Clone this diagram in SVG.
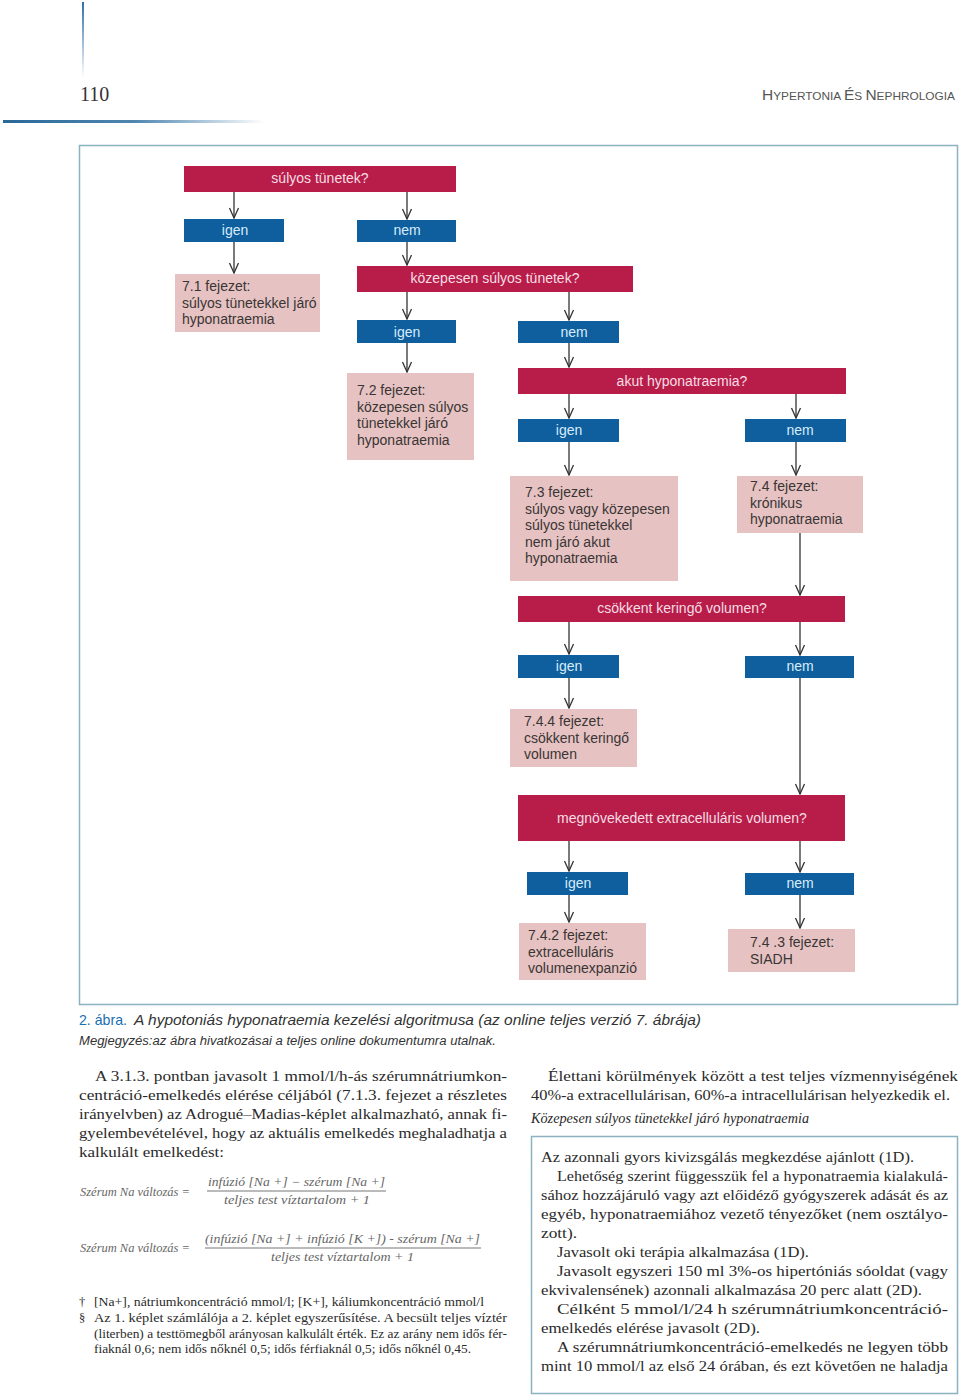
<svg xmlns="http://www.w3.org/2000/svg" width="960" height="1400" viewBox="0 0 960 1400">
<defs>
<linearGradient id="gv" x1="0" y1="0" x2="0" y2="1"><stop offset="0" stop-color="#2f6fa8"/><stop offset="1" stop-color="#2f6fa8" stop-opacity="0"/></linearGradient>
<linearGradient id="gh" x1="0" y1="0" x2="1" y2="0"><stop offset="0" stop-color="#2a6898"/><stop offset="0.5" stop-color="#4f86b0"/><stop offset="1" stop-color="#4f86b0" stop-opacity="0"/></linearGradient>
<marker id="ah" markerUnits="userSpaceOnUse" markerWidth="12" markerHeight="12" viewBox="0 0 12 12" refX="11" refY="6" orient="auto"><path d="M1,1.5 L11,6 L1,10.5" fill="none" stroke="#333" stroke-width="1.3"/></marker>
</defs>
<style>
.q{fill:#b81d4a}
.b{fill:#0f5f9e}
.p{fill:#e6c3c2}
.tq{font-family:"Liberation Sans",Arial,sans-serif;font-size:14px;fill:#f6dde4;text-anchor:middle}
.tb{font-family:"Liberation Sans",Arial,sans-serif;font-size:14px;fill:#d6ecfa;text-anchor:middle}
.tp{font-family:"Liberation Sans",Arial,sans-serif;font-size:14px;fill:#3a3535}
.c line{stroke:#333;stroke-width:1.3;marker-end:url(#ah)}
.body{font-family:"Liberation Serif","Times New Roman",serif;font-size:15.5px;fill:#2a2a2a}
.fn{font-family:"Liberation Serif","Times New Roman",serif;font-size:12.5px;fill:#2a2a2a}
.fm{font-family:"Liberation Serif","Times New Roman",serif;font-size:12px;font-style:italic;fill:#666}
.cap{font-family:"Liberation Sans",Arial,sans-serif;font-style:italic;fill:#333}
</style>
<rect width="960" height="1400" fill="#fff"/>
<!-- header -->
<rect x="82" y="2" width="2" height="76" fill="url(#gv)"/>
<text x="80" y="101" font-family="Liberation Serif,Times New Roman,serif" font-size="20" fill="#333">110</text>
<text x="955" y="100" text-anchor="end" font-family="Liberation Sans,Arial,sans-serif" fill="#555" font-size="11.5" textLength="193" lengthAdjust="spacingAndGlyphs"><tspan font-size="15">H</tspan>YPERTONIA <tspan font-size="15">É</tspan>S <tspan font-size="15">N</tspan>EPHROLOGIA</text>
<rect x="3" y="120" width="262" height="3" fill="url(#gh)"/>
<!-- frame -->
<rect x="79.5" y="145.5" width="878" height="859" fill="none" stroke="#8ab2c0" stroke-width="1.5"/>
<!-- connectors -->
<g id="connectors" class="c">
<line x1="234" y1="192" x2="234" y2="218"/>
<line x1="407" y1="192" x2="407" y2="219"/>
<line x1="234" y1="242" x2="234" y2="273"/>
<line x1="407" y1="242" x2="407" y2="265"/>
<line x1="407" y1="292" x2="407" y2="319"/>
<line x1="569" y1="292" x2="569" y2="320"/>
<line x1="407" y1="343" x2="407" y2="372"/>
<line x1="569" y1="343" x2="569" y2="367"/>
<line x1="569" y1="394" x2="569" y2="418"/>
<line x1="796" y1="394" x2="796" y2="418"/>
<line x1="569" y1="442" x2="569" y2="475"/>
<line x1="796" y1="442" x2="796" y2="475"/>
<line x1="800" y1="533" x2="800" y2="595"/>
<line x1="569" y1="622" x2="569" y2="654"/>
<line x1="800" y1="622" x2="800" y2="655"/>
<line x1="569" y1="678" x2="569" y2="708"/>
<line x1="800" y1="678" x2="800" y2="794"/>
<line x1="569" y1="841" x2="569" y2="871"/>
<line x1="800" y1="841" x2="800" y2="872"/>
<line x1="569" y1="895" x2="569" y2="922"/>
<line x1="800" y1="895" x2="800" y2="928"/>
</g>
<!-- nodes -->
<g id="q1"><rect class="q" x="184" y="166" width="272" height="26"/><text class="tq" x="320" y="183">súlyos tünetek?</text></g>
<g id="y1"><rect class="b" x="184" y="219" width="100" height="23"/><text class="tb" x="235" y="235">igen</text></g>
<g id="n1"><rect class="b" x="357" y="220" width="99" height="22"/><text class="tb" x="407" y="235">nem</text></g>
<g id="r71"><rect class="p" x="175" y="274" width="145" height="58"/><text class="tp" x="182" y="291">7.1 fejezet:<tspan x="182" dy="16.5">súlyos tünetekkel járó</tspan><tspan x="182" dy="16.5">hyponatraemia</tspan></text></g>
<g id="q2"><rect class="q" x="357" y="266" width="276" height="26"/><text class="tq" x="495" y="283">közepesen súlyos tünetek?</text></g>
<g id="y2"><rect class="b" x="357" y="320" width="99" height="23"/><text class="tb" x="407" y="337">igen</text></g>
<g id="n2"><rect class="b" x="518" y="321" width="101" height="22"/><text class="tb" x="574" y="337">nem</text></g>
<g id="r72"><rect class="p" x="347" y="373" width="127" height="87"/><text class="tp" x="357" y="395">7.2 fejezet:<tspan x="357" dy="16.5">közepesen súlyos</tspan><tspan x="357" dy="16.5">tünetekkel járó</tspan><tspan x="357" dy="16.5">hyponatraemia</tspan></text></g>
<g id="q3"><rect class="q" x="518" y="368" width="328" height="26"/><text class="tq" x="682" y="386">akut hyponatraemia?</text></g>
<g id="y3"><rect class="b" x="518" y="419" width="101" height="23"/><text class="tb" x="569" y="435">igen</text></g>
<g id="n3"><rect class="b" x="745" y="419" width="101" height="23"/><text class="tb" x="800" y="435">nem</text></g>
<g id="r73"><rect class="p" x="510" y="476" width="168" height="105"/><text class="tp" x="525" y="497">7.3 fejezet:<tspan x="525" dy="16.5">súlyos vagy közepesen</tspan><tspan x="525" dy="16.5">súlyos tünetekkel</tspan><tspan x="525" dy="16.5">nem járó akut</tspan><tspan x="525" dy="16.5">hyponatraemia</tspan></text></g>
<g id="r74"><rect class="p" x="737" y="476" width="126" height="57"/><text class="tp" x="750" y="491">7.4 fejezet:<tspan x="750" dy="16.5">krónikus</tspan><tspan x="750" dy="16.5">hyponatraemia</tspan></text></g>
<g id="q4"><rect class="q" x="518" y="596" width="327" height="26"/><text class="tq" x="682" y="613">csökkent keringő volumen?</text></g>
<g id="y4"><rect class="b" x="518" y="655" width="101" height="23"/><text class="tb" x="569" y="671">igen</text></g>
<g id="n4"><rect class="b" x="745" y="656" width="109" height="22"/><text class="tb" x="800" y="671">nem</text></g>
<g id="r744"><rect class="p" x="510" y="709" width="127" height="58"/><text class="tp" x="524" y="726">7.4.4 fejezet:<tspan x="524" dy="16.5">csökkent keringő</tspan><tspan x="524" dy="16.5">volumen</tspan></text></g>
<g id="q5"><rect class="q" x="518" y="795" width="327" height="46"/><text class="tq" x="682" y="823">megnövekedett extracelluláris volumen?</text></g>
<g id="y5"><rect class="b" x="527" y="872" width="101" height="23"/><text class="tb" x="578" y="888">igen</text></g>
<g id="n5"><rect class="b" x="745" y="873" width="109" height="22"/><text class="tb" x="800" y="888">nem</text></g>
<g id="r742"><rect class="p" x="519" y="923" width="127" height="57"/><text class="tp" x="528" y="940">7.4.2 fejezet:<tspan x="528" dy="16.5">extracelluláris</tspan><tspan x="528" dy="16.5">volumenexpanzió</tspan></text></g>
<g id="r743"><rect class="p" x="728" y="929" width="127" height="43"/><text class="tp" x="750" y="947">7.4 .3 fejezet:<tspan x="750" dy="16.5">SIADH</tspan></text></g>
<!-- caption -->
<text x="79" y="1025" font-family="Liberation Sans,Arial,sans-serif" font-size="15" fill="#1a6fb0" textLength="48" lengthAdjust="spacingAndGlyphs">2. ábra.</text>
<text class="cap" x="134" y="1025" font-size="15" textLength="567" lengthAdjust="spacingAndGlyphs">A hypotoniás hyponatraemia kezelési algoritmusa (az online teljes verzió 7. ábrája)</text>
<text class="cap" x="79" y="1045" font-size="12.5" textLength="417" lengthAdjust="spacingAndGlyphs">Megjegyzés:az ábra hivatkozásai a teljes online dokumentumra utalnak.</text>
<!-- left column -->
<g class="body">
<text x="95" y="1081" textLength="412" lengthAdjust="spacingAndGlyphs">A 3.1.3. pontban javasolt 1 mmol/l/h-ás szérumnátriumkon-</text>
<text x="79" y="1100" textLength="428" lengthAdjust="spacingAndGlyphs">centráció-emelkedés elérése céljából (7.1.3. fejezet a részletes</text>
<text x="79" y="1119" textLength="428" lengthAdjust="spacingAndGlyphs">irányelvben) az Adrogué–Madias-képlet alkalmazható, annak fi-</text>
<text x="79" y="1138" textLength="428" lengthAdjust="spacingAndGlyphs">gyelembevételével, hogy az aktuális emelkedés meghaladhatja a</text>
<text x="79" y="1157" textLength="145" lengthAdjust="spacingAndGlyphs">kalkulált emelkedést:</text>
</g>
<!-- formulas -->
<g class="fm">
<text x="80" y="1196" textLength="110" lengthAdjust="spacingAndGlyphs">Szérum Na változás =</text>
<text x="208" y="1186" textLength="177" lengthAdjust="spacingAndGlyphs">infúzió [Na +] − szérum [Na +]</text>
<line x1="207" y1="1191" x2="386" y2="1191" stroke="#777" stroke-width="1.2"/>
<text x="224" y="1204" textLength="146" lengthAdjust="spacingAndGlyphs">teljes test víztartalom + 1</text>
<text x="80" y="1252" textLength="110" lengthAdjust="spacingAndGlyphs">Szérum Na változás =</text>
<text x="205" y="1243" textLength="275" lengthAdjust="spacingAndGlyphs">(infúzió [Na +] +  infúzió [K +]) - szérum [Na +]</text>
<line x1="205" y1="1248" x2="481" y2="1248" stroke="#777" stroke-width="1.2"/>
<text x="271" y="1261" textLength="143" lengthAdjust="spacingAndGlyphs">teljes test víztartalom + 1</text>
</g>
<!-- footnotes -->
<g class="fn">
<text x="79" y="1306">†</text>
<text x="94" y="1306" textLength="390" lengthAdjust="spacingAndGlyphs">[Na+], nátriumkoncentráció mmol/l; [K+], káliumkoncentráció mmol/l</text>
<text x="79" y="1322">§</text>
<text x="94" y="1322" textLength="413" lengthAdjust="spacingAndGlyphs">Az 1. képlet számlálója a 2. képlet egyszerűsítése. A becsült teljes víztér</text>
<text x="94" y="1338" textLength="413" lengthAdjust="spacingAndGlyphs">(literben) a testtömegből arányosan kalkulált érték. Ez az arány nem idős fér-</text>
<text x="94" y="1353" textLength="377" lengthAdjust="spacingAndGlyphs">fiaknál 0,6; nem idős nőknél 0,5; idős férfiaknál 0,5; idős nőknél 0,45.</text>
</g>
<!-- right column -->
<g class="body">
<text x="548" y="1081" textLength="410" lengthAdjust="spacingAndGlyphs">Élettani körülmények között a test teljes vízmennyiségének</text>
<text x="531" y="1100" textLength="419" lengthAdjust="spacingAndGlyphs">40%-a extracellulárisan, 60%-a intracellulárisan helyezkedik el.</text>
<text x="531" y="1123" font-style="italic" font-size="15" textLength="278" lengthAdjust="spacingAndGlyphs">Közepesen súlyos tünetekkel járó hyponatraemia</text>
</g>
<rect x="531.5" y="1136.5" width="426" height="257" fill="none" stroke="#8ab2c0" stroke-width="1.5"/>
<g class="body">
<text x="541" y="1162" textLength="373" lengthAdjust="spacingAndGlyphs">Az azonnali gyors kivizsgálás megkezdése ajánlott (1D).</text>
<text x="557" y="1181" textLength="391" lengthAdjust="spacingAndGlyphs">Lehetőség szerint függesszük fel a hyponatraemia kialakulá-</text>
<text x="541" y="1200" textLength="407" lengthAdjust="spacingAndGlyphs">sához hozzájáruló vagy azt előidéző gyógyszerek adását és az</text>
<text x="541" y="1219" textLength="407" lengthAdjust="spacingAndGlyphs">egyéb, hyponatraemiához vezető tényezőket (nem osztályo-</text>
<text x="541" y="1238" textLength="36" lengthAdjust="spacingAndGlyphs">zott).</text>
<text x="557" y="1257" textLength="252" lengthAdjust="spacingAndGlyphs">Javasolt oki terápia alkalmazása (1D).</text>
<text x="557" y="1276" textLength="391" lengthAdjust="spacingAndGlyphs">Javasolt egyszeri 150 ml 3%-os hipertóniás sóoldat (vagy</text>
<text x="541" y="1295" textLength="381" lengthAdjust="spacingAndGlyphs">ekvivalensének) azonnali alkalmazása 20 perc alatt (2D).</text>
<text x="557" y="1314" textLength="391" lengthAdjust="spacingAndGlyphs">Célként 5 mmol/l/24 h szérumnátriumkoncentráció-</text>
<text x="541" y="1333" textLength="219" lengthAdjust="spacingAndGlyphs">emelkedés elérése javasolt (2D).</text>
<text x="557" y="1352" textLength="391" lengthAdjust="spacingAndGlyphs">A szérumnátriumkoncentráció-emelkedés ne legyen több</text>
<text x="541" y="1371" textLength="407" lengthAdjust="spacingAndGlyphs">mint 10 mmol/l az első 24 órában, és ezt követően ne haladja</text>
</g>
</svg>
